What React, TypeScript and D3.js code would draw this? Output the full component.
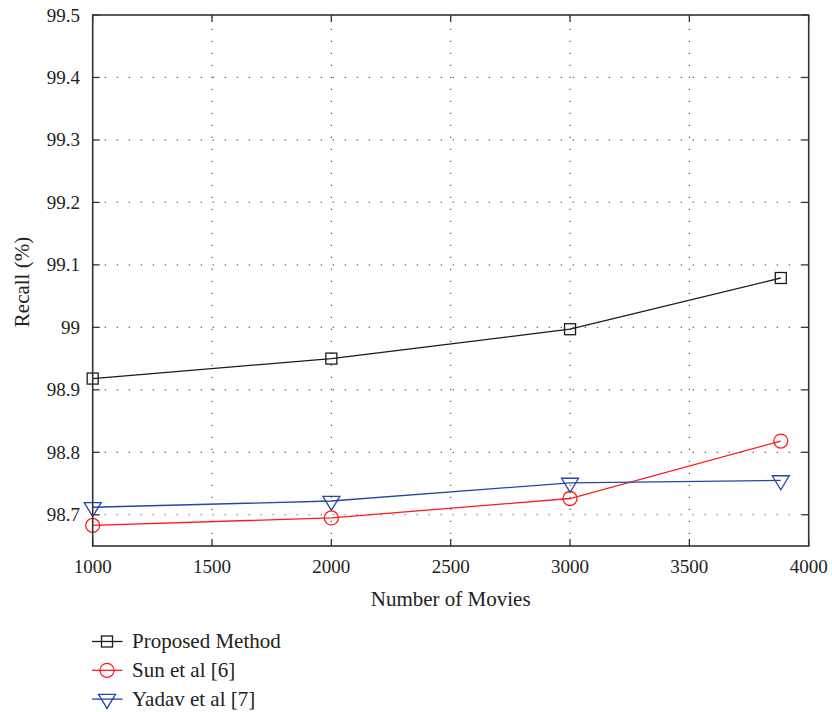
import React from "react";
import * as d3 from "d3";

// Number of movies on the x axis
const movies = [1000, 2000, 3000, 3883];

// Recall (%) for each method
const proposed = [98.918, 98.95, 98.997, 99.079];
const sun = [98.683, 98.695, 98.726, 98.818];
const yadav = [98.712, 98.722, 98.751, 98.755];

const xTicks = [1000, 1500, 2000, 2500, 3000, 3500, 4000];
const yTicks = [98.7, 98.8, 98.9, 99.0, 99.1, 99.2, 99.3, 99.4, 99.5];

const seriesNames = ["Proposed Method", "Sun et al [6]", "Yadav et al [7]"];
const seriesColors = ["#1a1a1a", "#ff1a1a", "#2445a8"];
const seriesMarkers = ["square", "circle", "triangle"];

const W = 832;
const H = 712;
const left = 92.7;
const right = 808.7;
const top = 15;
const bottom = 546;
const font = "Liberation Serif, Times New Roman, Tinos, DejaVu Serif, serif";
const textColor = "#222";
const numStyle = { fontFamily: font, fontSize: 19, fill: textColor } as React.CSSProperties;
const wordStyle = { fontFamily: font, fontSize: 21, fill: textColor } as React.CSSProperties;

function Marker({ kind, x, y, color }: { kind: string; x: number; y: number; color: string }) {
  if (kind === "square") {
    return <rect x={x - 5.5} y={y - 5.5} width={11} height={11} fill="none" stroke={color} strokeWidth={1.3} />;
  }
  if (kind === "circle") {
    return <circle cx={x} cy={y} r={7} fill="none" stroke={color} strokeWidth={1.3} />;
  }
  // downward triangle with centroid on the point
  const w = 8.5;
  const h = 14;
  const pts = [
    [x - w, y - h / 3],
    [x + w, y - h / 3],
    [x, y + (2 * h) / 3],
  ];
  return <polygon points={pts.map((p) => p.join(",")).join(" ")} fill="none" stroke={color} strokeWidth={1.3} />;
}

export default function App() {
  const x = d3.scaleLinear().domain([1000, 4000]).range([left, right]);
  const y = d3.scaleLinear().domain([98.65, 99.5]).range([bottom, top]);

  const series = [proposed, sun, yadav];
  const line = d3
    .line<[number, number]>()
    .x((d) => x(d[0]))
    .y((d) => y(d[1]));

  const tickLen = 7;
  const gridDash = "1.2 10.8";

  return (
    <svg width={W} height={H} style={{ position: "absolute", left: 0, top: 0, background: "#fff" }}>
      <rect width={W} height={H} fill="#fff" />
      {/* dotted grid */}
      <g stroke="#555" strokeWidth={1.2} strokeDasharray={gridDash}>
        {xTicks.slice(1, -1).map((t) => (
          <line key={"gx" + t} x1={x(t)} x2={x(t)} y1={bottom} y2={top} />
        ))}
        {yTicks.slice(0, -1).map((t) => (
          <line key={"gy" + t} x1={left} x2={right} y1={y(t)} y2={y(t)} />
        ))}
      </g>
      {/* inward ticks on all four sides */}
      <g stroke="#333" strokeWidth={1.3}>
        {xTicks.map((t) => (
          <g key={"tx" + t}>
            <line x1={x(t)} x2={x(t)} y1={bottom} y2={bottom - tickLen} />
            <line x1={x(t)} x2={x(t)} y1={top} y2={top + tickLen} />
          </g>
        ))}
        {yTicks.map((t) => (
          <g key={"ty" + t}>
            <line x1={left} x2={left + tickLen} y1={y(t)} y2={y(t)} />
            <line x1={right} x2={right - tickLen} y1={y(t)} y2={y(t)} />
          </g>
        ))}
      </g>
      {/* series */}
      {series.map((vals, i) => {
        const pts = movies.map((m, j) => [m, vals[j]] as [number, number]);
        return (
          <g key={seriesNames[i]}>
            <path d={line(pts) || ""} fill="none" stroke={seriesColors[i]} strokeWidth={1.3} />
            {pts.map((p, j) => (
              <Marker key={j} kind={seriesMarkers[i]} x={x(p[0])} y={y(p[1])} color={seriesColors[i]} />
            ))}
          </g>
        );
      })}
      {/* frame */}
      <rect x={left} y={top} width={right - left} height={bottom - top} fill="none" stroke="#333" strokeWidth={1.6} />
      {/* tick labels */}
      <g>
        {xTicks.map((t) => (
          <text key={"lx" + t} x={x(t)} y={573} textAnchor="middle" style={numStyle}>
            {t}
          </text>
        ))}
        {yTicks.map((t) => (
          <text key={"ly" + t} x={80} y={y(t) + 6.5} textAnchor="end" style={numStyle}>
            {d3.format("~g")(t)}
          </text>
        ))}
      </g>
      {/* axis titles */}
      <text x={(left + right) / 2} y={606} textAnchor="middle" style={wordStyle}>
        Number of Movies
      </text>
      <text transform={`translate(29, ${282}) rotate(-90)`} textAnchor="middle" style={wordStyle}>
        Recall (%)
      </text>
      {/* legend */}
      {seriesNames.map((name, i) => {
        const ly = 641.5 + i * 28.8;
        return (
          <g key={"lg" + i}>
            <line x1={92} x2={122.5} y1={ly} y2={ly} stroke={seriesColors[i]} strokeWidth={1.3} />
            <Marker kind={seriesMarkers[i]} x={107} y={ly} color={seriesColors[i]} />
            <text x={132} y={ly + 6.5} style={wordStyle}>
              {name}
            </text>
          </g>
        );
      })}
    </svg>
  );
}
